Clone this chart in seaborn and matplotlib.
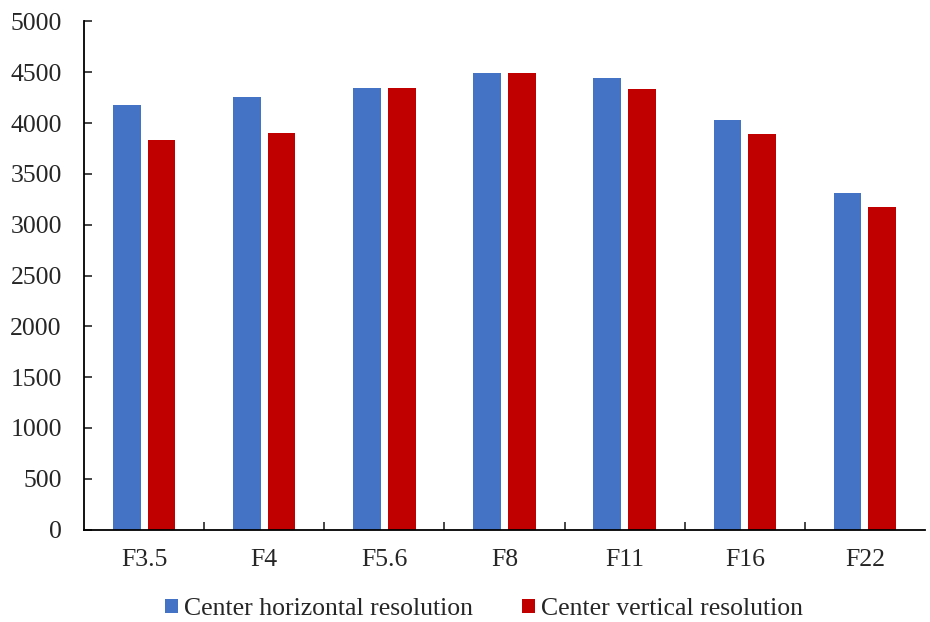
import matplotlib
matplotlib.use("Agg")
import matplotlib.pyplot as plt
import seaborn as sns
import pandas as pd
from matplotlib.patches import Patch

categories = ["F3.5", "F4", "F5.6", "F8", "F11", "F16", "F22"]
horizontal = [4180, 4260, 4350, 4490, 4440, 4030, 3310]
vertical = [3830, 3900, 4350, 4490, 4335, 3890, 3170]
series_names = ["Center horizontal resolution", "Center vertical resolution"]
colors = ["#4472C4", "#C00000"]
y_ticks = [0, 500, 1000, 1500, 2000, 2500, 3000, 3500, 4000, 4500, 5000]

df = pd.DataFrame({
    "cat": categories * 2,
    "value": horizontal + vertical,
    "series": [series_names[0]] * len(categories) + [series_names[1]] * len(categories),
})

sns.set_style("white")
plt.rcParams["font.family"] = ["Liberation Serif", "DejaVu Serif"]
FS = 18.5

fig = plt.figure(figsize=(9.3, 6.22), dpi=100)
ax = fig.add_axes([84 / 930, 1 - 529.5 / 622, (925 - 84) / 930, (529.5 - 21.5) / 622])

sns.barplot(data=df, x="cat", y="value", hue="series", order=categories,
            hue_order=series_names, palette=colors, saturation=1,
            width=0.577, gap=0.2, linewidth=0, ax=ax, legend=False)

ax.set_ylim(0, 5000)
ax.set_xlim(-0.5, len(categories) - 0.5)
ax.set_yticks(y_ticks)
ax.set_yticklabels([str(t) for t in y_ticks])
ax.set_xlabel("")
ax.set_ylabel("")

for s in ["top", "right"]:
    ax.spines[s].set_visible(False)
for s in ["left", "bottom"]:
    ax.spines[s].set_color("black")
    ax.spines[s].set_linewidth(1.3)

ax.tick_params(axis="y", direction="in", length=6, width=1.2, labelsize=FS, pad=16, left=True)
ax.tick_params(axis="x", which="major", length=0, labelsize=FS, pad=14)
# category boundary ticks
ax.set_xticks([i + 0.5 for i in range(len(categories) - 1)], minor=True)
ax.tick_params(axis="x", which="minor", direction="in", length=6, width=1.2, bottom=True)

handles = [Patch(facecolor=c, edgecolor="none") for c in colors]
fig.legend(handles, series_names, loc="center", bbox_to_anchor=(484 / 930, 1 - 609 / 622),
           ncol=2, frameon=False, fontsize=FS, handlelength=0.5, handleheight=0.5,
           handletextpad=0.25, columnspacing=1.9)

fig.savefig("out.png", dpi=100)
